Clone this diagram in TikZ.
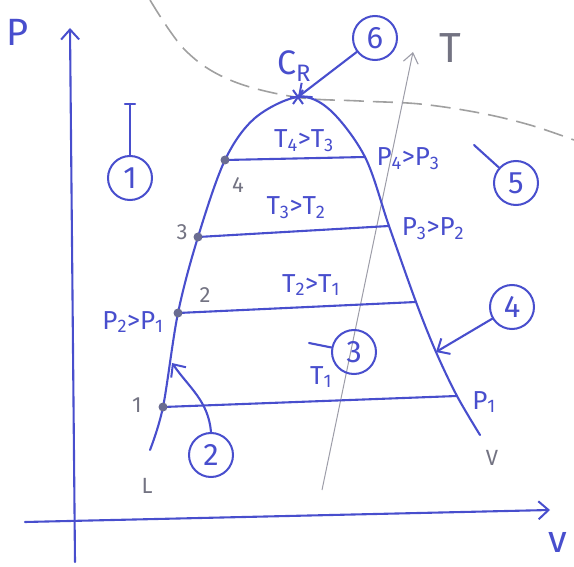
\documentclass[tikz,border=0pt]{standalone}
\usepackage{fontspec}
\setmainfont{Fira Sans}
\usetikzlibrary{arrows.meta,calc}
\definecolor{ink}{RGB}{72,78,205}
\definecolor{pencil}{RGB}{115,115,130}
\definecolor{dashgrey}{RGB}{160,160,160}
\tikzset{
  inkline/.style={draw=ink, line width=2.1pt, line cap=round},
  circnum/.style={circle, draw=ink, line width=2pt, minimum size=44pt, inner sep=0pt, text=ink, font=\fontsize{31}{33}\selectfont},
  lbl/.style={text=ink, font=\fontsize{26}{28}\selectfont, inner sep=1pt},
  glbl/.style={text=pencil, font=\fontsize{22}{24}\selectfont, inner sep=1pt},
  pdot/.style={circle, fill=pencil!80!ink, inner sep=0pt, minimum size=9pt},
  barb/.style={-{Straight Barb[length=10pt,width=18pt,line width=2pt]}},
}
\newcommand{\subl}[1]{\textsubscript{#1}}
\begin{document}
\begin{tikzpicture}[x=1pt,y=-1pt]
\useasboundingbox (0,0) rectangle (574,567);
% axes
\coordinate (yb) at (75,562);
\coordinate (yt) at (70,28);
\coordinate (xl) at (25,522);
\coordinate (xr) at (550,510);
\draw[inkline, barb] (yb) -- (yt);
\draw[inkline, barb] (xl) -- (xr);
\node[text=ink, font=\fontsize{38}{40}\selectfont] (Plab) at (18,32) {P};
\node[text=ink, font=\fontsize{38}{40}\selectfont] (vlab) at (558,542) {v};
% dashed critical isotherm
\draw[dashgrey, line width=1.6pt, dash pattern=on 20pt off 9pt] plot[smooth, tension=0.6] coordinates {(150,0) (185,50) (230,80) (295,97) (360,101) (420,104) (480,113) (530,125) (574,140)};
% T arrow
\coordinate (tb) at (322,490);
\coordinate (tt) at (413,52);
\draw[pencil!70, line width=1pt, -{Straight Barb[length=10pt,width=15pt,line width=1.1pt]}] (tb) -- (tt);
\node[text=pencil, font=\fontsize{42}{44}\selectfont] (Tlab) at (450,48) {T};
% dome
\coordinate (L1) at (163,407);
\coordinate (L2) at (178,313);
\coordinate (L3) at (198,237);
\coordinate (L4) at (225,160);
\coordinate (cr) at (298,97);
\coordinate (R4) at (365,157);
\coordinate (R3) at (389,226);
\coordinate (R2) at (416,302);
\coordinate (R1) at (457,396);
\draw[inkline] plot[smooth, tension=0.55] coordinates {(150,450) (L1) (L2) (L3) (L4) (255,118) (cr) (330,110) (R4) (R3) (R2) (436,352) (R1) (480,435)};
% isobars
\draw[inkline] (L4) -- (R4);
\draw[inkline] (L3) -- (R3);
\draw[inkline] (L2) -- (R2);
\draw[inkline] (L1) -- (R1);
\foreach \p in {L1,L2,L3,L4} \node[pdot] at (\p) {};
% critical point star
\draw[ink, line width=2pt] ($(cr)+(-8,0)$) -- ($(cr)+(8,0)$);
\draw[ink, line width=2pt] ($(cr)+(-5,-7)$) -- ($(cr)+(5,7)$);
\draw[ink, line width=2pt] ($(cr)+(-5,7)$) -- ($(cr)+(5,-7)$);
\node[text=ink, font=\fontsize{34}{36}\selectfont] (CR) at (294,66) {C\subl{R}};
% labels
\node[lbl] (t43) at (304,141) {T\subl{4}>T\subl{3}};
\node[lbl] (t32) at (296,208) {T\subl{3}>T\subl{2}};
\node[lbl] (t21) at (311,285) {T\subl{2}>T\subl{1}};
\node[lbl] (t1) at (321,377) {T\subl{1}};
\node[lbl] (p43) at (408,159) {P\subl{4}>P\subl{3}};
\node[lbl] (p32) at (433,229) {P\subl{3}>P\subl{2}};
\node[lbl] (p21) at (133,322) {P\subl{2}>P\subl{1}};
\node[lbl] (p1) at (484,402) {P\subl{1}};
\node[glbl] (n1) at (137,405) {1};
\node[glbl] (n2) at (205,295) {2};
\node[glbl] (n3) at (182,232) {3};
\node[glbl] (n4) at (238,185) {4};
\node[glbl] (Llab) at (147,486) {L};
\node[glbl] (Vlab) at (492,458) {V};
% numbered circles
\node[circnum] (c1) at (130,178) {1};
\node[circnum] (c2) at (211,455) {2};
\node[circnum] (c3) at (354,352) {3};
\node[circnum] (c4) at (512,307) {4};
\node[circnum] (c5) at (516,183) {5};
\node[circnum] (c6) at (375,38) {6};
\coordinate (k1) at (130,104);
\coordinate (a2) at (172,363);
\coordinate (k3) at (309,343);
\coordinate (a4) at (436,352);
\coordinate (k5) at (474,145);
\draw[inkline] (c1.north) -- (k1);
\draw[inkline] ($(k1)+(-5,0)$) -- ($(k1)+(5,0)$);
\draw[inkline, barb] (c2.north) to[out=95, in=-55] (a2);
\draw[inkline] (c3) -- (k3);
\draw[inkline, barb] (c4) -- (a4);
\draw[inkline] (c5) -- (k5);
\draw[inkline, barb] (c6) -- (cr);
\end{tikzpicture}
\end{document}
